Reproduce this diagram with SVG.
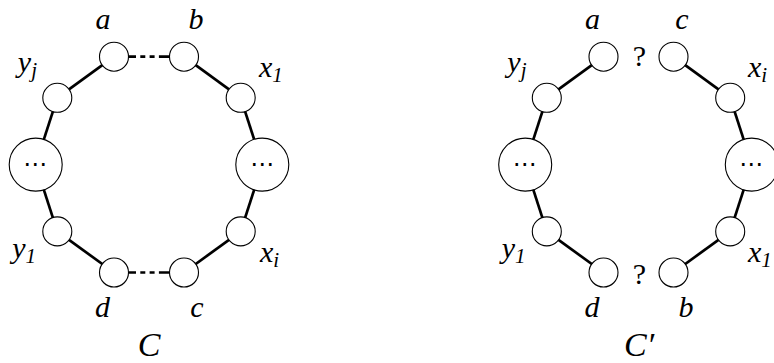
<svg xmlns="http://www.w3.org/2000/svg" width="774" height="363" viewBox="0 0 774 363">
<style>
.n{fill:#fff;stroke:#000;stroke-width:1.1}
.e{stroke:#000;stroke-width:2.7;fill:none}
.d{stroke:#000;stroke-width:2.7;fill:none;stroke-dasharray:7 4.3 5 4.3 5 4.3 10.1 0}
</style>
<rect width="774" height="363" fill="#fff"/>
<g id="connectors">
<line class="e" x1="114" y1="56.7" x2="57.3" y2="97.8"/>
<line class="e" x1="57.3" y1="97.8" x2="35.7" y2="164.6"/>
<line class="e" x1="35.7" y1="164.6" x2="57.3" y2="231.4"/>
<line class="e" x1="57.3" y1="231.4" x2="114" y2="272.5"/>
<line class="d" x1="129" y1="272.5" x2="169" y2="272.5"/>
<line class="e" x1="184" y1="272.5" x2="240.7" y2="231.4"/>
<line class="e" x1="240.7" y1="231.4" x2="262.3" y2="164.6"/>
<line class="e" x1="262.3" y1="164.6" x2="240.7" y2="97.8"/>
<line class="e" x1="240.7" y1="97.8" x2="184" y2="56.7"/>
<line class="d" x1="129" y1="56.7" x2="169" y2="56.7"/>
<line class="e" x1="603.5" y1="56.7" x2="546.8" y2="97.8"/>
<line class="e" x1="546.8" y1="97.8" x2="525.2" y2="164.6"/>
<line class="e" x1="525.2" y1="164.6" x2="546.8" y2="231.4"/>
<line class="e" x1="546.8" y1="231.4" x2="603.5" y2="272.5"/>
<line class="e" x1="673.5" y1="272.5" x2="730.2" y2="231.4"/>
<line class="e" x1="730.2" y1="231.4" x2="751.8" y2="164.6"/>
<line class="e" x1="751.8" y1="164.6" x2="730.2" y2="97.8"/>
<line class="e" x1="730.2" y1="97.8" x2="673.5" y2="56.7"/>
</g>
<g font-family="Liberation Serif, DejaVu Serif, serif" font-style="italic" font-size="30" fill="#000">
<g id="C-a"><circle class="n" cx="114" cy="56.7" r="14.5"/><text x="103" y="28.5" text-anchor="middle">a</text></g>
<g id="C-b"><circle class="n" cx="184" cy="56.7" r="14.5"/><text x="196" y="28.5" text-anchor="middle">b</text></g>
<g id="C-yj"><circle class="n" cx="57.3" cy="97.8" r="14.5"/><text x="37" y="72" text-anchor="end">y<tspan font-size="21" dy="5">j</tspan></text></g>
<g id="C-x1"><circle class="n" cx="240.7" cy="97.8" r="14.5"/><text x="259" y="77">x<tspan font-size="21" dy="4.5">1</tspan></text></g>
<g id="C-left"><circle class="n" cx="35.7" cy="164.6" r="26.5"/><text x="35.2" y="172" font-family="DejaVu Sans, sans-serif" font-style="normal" font-size="24" text-anchor="middle">⋯</text></g>
<g id="C-right"><circle class="n" cx="262.3" cy="164.6" r="26.5"/><text x="262.3" y="172" font-family="DejaVu Sans, sans-serif" font-style="normal" font-size="24" text-anchor="middle">⋯</text></g>
<g id="C-y1"><circle class="n" cx="57.3" cy="231.4" r="14.5"/><text x="36" y="258" text-anchor="end">y<tspan font-size="21" dy="4.5">1</tspan></text></g>
<g id="C-xi"><circle class="n" cx="240.7" cy="231.4" r="14.5"/><text x="260" y="262">x<tspan font-size="21" dy="4.5">i</tspan></text></g>
<g id="C-d"><circle class="n" cx="114" cy="272.5" r="14.5"/><text x="102.5" y="317" text-anchor="middle">d</text></g>
<g id="C-c"><circle class="n" cx="184" cy="272.5" r="14.5"/><text x="197" y="317" text-anchor="middle">c</text></g>
<text x="149" y="356" font-size="34" text-anchor="middle">C</text>
<g id="Cp-a"><circle class="n" cx="603.5" cy="56.7" r="14.5"/><text x="592.5" y="28.5" text-anchor="middle">a</text></g>
<g id="Cp-c"><circle class="n" cx="673.5" cy="56.7" r="14.5"/><text x="682" y="28.5" text-anchor="middle">c</text></g>
<g id="Cp-yj"><circle class="n" cx="546.8" cy="97.8" r="14.5"/><text x="526.5" y="72" text-anchor="end">y<tspan font-size="21" dy="5">j</tspan></text></g>
<g id="Cp-xi"><circle class="n" cx="730.2" cy="97.8" r="14.5"/><text x="748" y="77">x<tspan font-size="21" dy="4.5">i</tspan></text></g>
<g id="Cp-left"><circle class="n" cx="525.2" cy="164.6" r="26.5"/><text x="524.7" y="172" font-family="DejaVu Sans, sans-serif" font-style="normal" font-size="24" text-anchor="middle">⋯</text></g>
<g id="Cp-right"><circle class="n" cx="751.8" cy="164.6" r="26.5"/><text x="751.3" y="172" font-family="DejaVu Sans, sans-serif" font-style="normal" font-size="24" text-anchor="middle">⋯</text></g>
<g id="Cp-y1"><circle class="n" cx="546.8" cy="231.4" r="14.5"/><text x="525.5" y="258" text-anchor="end">y<tspan font-size="21" dy="4.5">1</tspan></text></g>
<g id="Cp-x1"><circle class="n" cx="730.2" cy="231.4" r="14.5"/><text x="748" y="262">x<tspan font-size="21" dy="4.5">1</tspan></text></g>
<g id="Cp-d"><circle class="n" cx="603.5" cy="272.5" r="14.5"/><text x="592" y="317" text-anchor="middle">d</text></g>
<g id="Cp-b"><circle class="n" cx="673.5" cy="272.5" r="14.5"/><text x="686" y="317" text-anchor="middle">b</text></g>
<text x="639.5" y="66" font-style="normal" text-anchor="middle">?</text>
<text x="639.5" y="284" font-style="normal" text-anchor="middle">?</text>
<text x="624" y="356" font-size="34">C′</text>
</g>
</svg>
